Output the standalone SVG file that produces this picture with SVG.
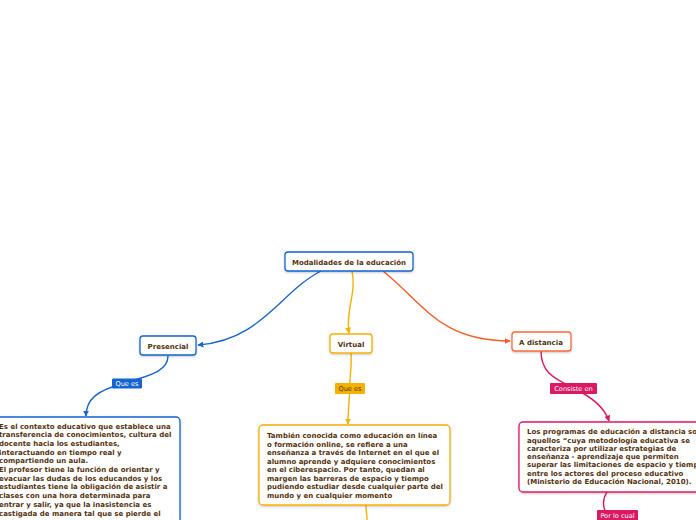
<svg xmlns="http://www.w3.org/2000/svg" width="696" height="520" viewBox="0 0 696 520">
<style>
.t{font-family:"DejaVu Sans",Verdana,sans-serif;font-weight:bold;font-size:7px;fill:#55330d}
.b{font-family:"DejaVu Sans",Verdana,sans-serif;font-weight:bold;font-size:7px;fill:#55330d}
.l{font-family:"DejaVu Sans",Verdana,sans-serif;font-size:6.6px;fill:#fff}
.box{fill:#fff;stroke-width:1.3;filter:url(#sh)}
.c{fill:none;stroke-width:1.4}
</style>
<defs>
<filter id="sh" x="-10%" y="-20%" width="120%" height="150%"><feDropShadow dx="0" dy="1" stdDeviation="1" flood-color="#000" flood-opacity="0.22"/></filter>
<marker id="aB" viewBox="0 0 10 10" refX="9" refY="5" markerWidth="6" markerHeight="6" orient="auto" markerUnits="userSpaceOnUse"><path d="M0,0L10,5L0,10z" fill="#1464d2"/></marker>
<marker id="aY" viewBox="0 0 10 10" refX="9" refY="5" markerWidth="6" markerHeight="6" orient="auto" markerUnits="userSpaceOnUse"><path d="M0,0L10,5L0,10z" fill="#f5b000"/></marker>
<marker id="aR" viewBox="0 0 10 10" refX="9" refY="5" markerWidth="6" markerHeight="6" orient="auto" markerUnits="userSpaceOnUse"><path d="M0,0L10,5L0,10z" fill="#fb5a24"/></marker>
<marker id="aC" viewBox="0 0 10 10" refX="9" refY="5" markerWidth="6" markerHeight="6" orient="auto" markerUnits="userSpaceOnUse"><path d="M0,0L10,5L0,10z" fill="#dd1862"/></marker>
</defs>
<g id="connectors">
<path class="c" stroke="#1464d2" d="M321,271 C280,292 262,340 198,345" marker-end="url(#aB)"/>
<path class="c" stroke="#f5b000" d="M352,271 C357,292 345,312 349,333" marker-end="url(#aY)"/>
<path class="c" stroke="#fb5a24" d="M383,271 C425,305 440,341 510,341" marker-end="url(#aR)"/>
<path class="c" stroke="#1464d2" d="M168,356 C168,374 140,377 126,383"/>
<path class="c" stroke="#1464d2" d="M126,383 C96,390 86,400 86,416" marker-end="url(#aB)"/>
<path class="c" stroke="#f5b000" d="M351,353 C352,370 349,380 350,388"/>
<path class="c" stroke="#f5b000" d="M350,388 C349,402 348,412 348,424" marker-end="url(#aY)"/>
<path class="c" stroke="#dd1862" d="M541,351 C541,376 560,380 573,388"/>
<path class="c" stroke="#dd1862" d="M573,388 C590,396 604,406 609,421" marker-end="url(#aC)"/>
<path class="c" stroke="#dd1862" d="M607,492 C602,500 603,508 607,514"/>
<path class="c" stroke="#f5b000" d="M366,505 C366,511 367,515 367,520"/>
</g>
<g id="main">
<rect class="box" x="285" y="252" width="128" height="19" rx="3" stroke="#1464d2"/>
<text class="t" x="349" y="264.5" text-anchor="middle">Modalidades de la educación</text>
</g>
<g id="presencial">
<rect class="box" x="140" y="336" width="56" height="19" rx="3" stroke="#1464d2"/>
<text class="t" x="168" y="348.5" text-anchor="middle">Presencial</text>
</g>
<g id="virtual">
<rect class="box" x="330" y="334" width="42" height="19" rx="3" stroke="#f5b000"/>
<text class="t" x="351" y="346.5" text-anchor="middle">Virtual</text>
</g>
<g id="distancia">
<rect class="box" x="512" y="332" width="59" height="19" rx="3" stroke="#fb6a3c"/>
<text class="t" x="541" y="344.5" text-anchor="middle">A distancia</text>
</g>
<g id="label-presencial">
<rect x="112" y="378.5" width="30" height="10" rx="1" fill="#1464d2"/>
<text class="l" x="127" y="386" text-anchor="middle">Que es</text>
</g>
<g id="label-virtual">
<rect x="335" y="383" width="30" height="11" rx="1" fill="#f5b000"/>
<text class="l" x="350" y="391" text-anchor="middle" style="fill:#55330d">Que es</text>
</g>
<g id="label-distancia">
<rect x="550" y="383" width="47" height="11" rx="1" fill="#dd1862"/>
<text class="l" x="573.5" y="391" text-anchor="middle">Consiste en</text>
</g>
<g id="label-porlocual">
<rect x="597" y="510" width="41" height="11" rx="1" fill="#dd1862"/>
<text class="l" x="617.5" y="518" text-anchor="middle">Por lo cual</text>
</g>
<g id="presencial-desc">
<rect class="box" x="-20" y="417" width="200" height="120" rx="4" stroke="#1464d2"/>
<text class="b" x="-1" y="428.5">Es el contexto educativo que establece una</text>
<text class="b" x="-1" y="437.2">transferencia de conocimientos, cultura del</text>
<text class="b" x="-1" y="445.9">docente hacia los estudiantes,</text>
<text class="b" x="-1" y="454.6">interactuando en tiempo real y</text>
<text class="b" x="-1" y="463.3">compartiendo un aula.</text>
<text class="b" x="-1" y="472">El profesor tiene la función de orientar y</text>
<text class="b" x="-1" y="480.7">evacuar las dudas de los educandos y los</text>
<text class="b" x="-1" y="489.4">estudiantes tiene la obligación de asistir a</text>
<text class="b" x="-1" y="498.1">clases con una hora determinada para</text>
<text class="b" x="-1" y="506.8">entrar y salir, ya que la inasistencia es</text>
<text class="b" x="-1" y="515.5">castigada de manera tal que se pierde el</text>
<text class="b" x="-1" y="524.2">curso</text>
</g>
<g id="virtual-desc">
<rect class="box" x="259" y="425" width="191" height="80" rx="4" stroke="#f5b000"/>
<text class="b" x="267" y="438.2">También conocida como educación en línea</text>
<text class="b" x="267" y="446.7">o formación online, se refiere a una</text>
<text class="b" x="267" y="455.2">enseñanza a través de Internet en el que el</text>
<text class="b" x="267" y="463.7">alumno aprende y adquiere conocimientos</text>
<text class="b" x="267" y="472.2">en el ciberespacio. Por tanto, quedan al</text>
<text class="b" x="267" y="480.7">margen las barreras de espacio y tiempo</text>
<text class="b" x="267" y="489.2">pudiendo estudiar desde cualquier parte del</text>
<text class="b" x="267" y="497.7">mundo y en cualquier momento</text>
</g>
<g id="distancia-desc">
<rect class="box" x="519" y="422" width="200" height="70" rx="4" stroke="#dd1862"/>
<text class="b" x="527" y="434.2">Los programas de educación a distancia son</text>
<text class="b" x="527" y="442.5">aquellos “cuya metodología educativa se</text>
<text class="b" x="527" y="450.8">caracteriza por utilizar estrategias de</text>
<text class="b" x="527" y="459.1">enseñanza - aprendizaje que permiten</text>
<text class="b" x="527" y="467.4">superar las limitaciones de espacio y tiempo</text>
<text class="b" x="527" y="475.7">entre los actores del proceso educativo</text>
<text class="b" x="527" y="484">(Ministerio de Educación Nacional, 2010).</text>
</g>
</svg>
